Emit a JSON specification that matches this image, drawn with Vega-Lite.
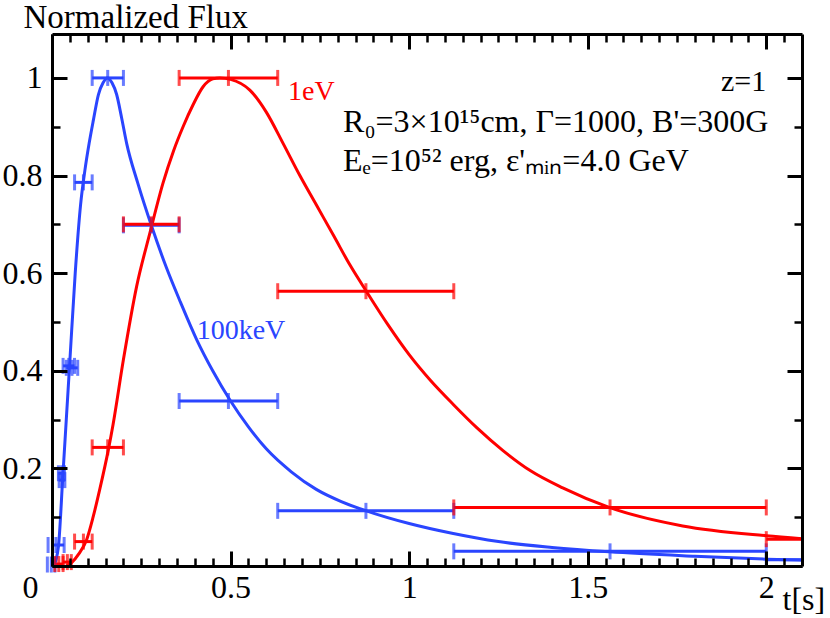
{
  "$schema": "https://vega.github.io/schema/vega-lite/v6.json",
  "width": 750,
  "height": 532,
  "autosize": {"type": "none"},
  "padding": {"left": 52, "top": 34, "right": 28, "bottom": 52},
  "background": "white",
  "config": {
    "view": {"stroke": null},
    "font": "Liberation Serif",
    "axis": {"grid": false, "labelFont": "Liberation Serif", "titleFont": "Liberation Serif", "labelColor": "black", "titleColor": "black", "domainColor": "black", "tickColor": "black", "titleFontWeight": "normal"}
  },
  "datasets": {
    "curves": [
      {"series": "100keV", "t": 0.005, "f": 0.0},
      {"series": "100keV", "t": 0.018, "f": 0.04},
      {"series": "100keV", "t": 0.03, "f": 0.18},
      {"series": "100keV", "t": 0.04, "f": 0.3},
      {"series": "100keV", "t": 0.05, "f": 0.42},
      {"series": "100keV", "t": 0.065, "f": 0.6},
      {"series": "100keV", "t": 0.08, "f": 0.74},
      {"series": "100keV", "t": 0.092, "f": 0.81},
      {"series": "100keV", "t": 0.104, "f": 0.866},
      {"series": "100keV", "t": 0.116, "f": 0.914},
      {"series": "100keV", "t": 0.13, "f": 0.966},
      {"series": "100keV", "t": 0.143, "f": 0.99},
      {"series": "100keV", "t": 0.155, "f": 1.0},
      {"series": "100keV", "t": 0.168, "f": 0.99},
      {"series": "100keV", "t": 0.181, "f": 0.966},
      {"series": "100keV", "t": 0.195, "f": 0.918},
      {"series": "100keV", "t": 0.209, "f": 0.866},
      {"series": "100keV", "t": 0.24, "f": 0.785},
      {"series": "100keV", "t": 0.28, "f": 0.694},
      {"series": "100keV", "t": 0.32, "f": 0.612},
      {"series": "100keV", "t": 0.36, "f": 0.54},
      {"series": "100keV", "t": 0.405, "f": 0.464},
      {"series": "100keV", "t": 0.45, "f": 0.4},
      {"series": "100keV", "t": 0.5, "f": 0.338},
      {"series": "100keV", "t": 0.55, "f": 0.285},
      {"series": "100keV", "t": 0.6, "f": 0.24},
      {"series": "100keV", "t": 0.67, "f": 0.193},
      {"series": "100keV", "t": 0.74, "f": 0.157},
      {"series": "100keV", "t": 0.81, "f": 0.132},
      {"series": "100keV", "t": 0.88, "f": 0.113},
      {"series": "100keV", "t": 1.0, "f": 0.087},
      {"series": "100keV", "t": 1.12, "f": 0.067},
      {"series": "100keV", "t": 1.25, "f": 0.05},
      {"series": "100keV", "t": 1.4, "f": 0.038},
      {"series": "100keV", "t": 1.56, "f": 0.029},
      {"series": "100keV", "t": 1.8, "f": 0.02},
      {"series": "100keV", "t": 2.0, "f": 0.014},
      {"series": "100keV", "t": 2.1, "f": 0.012},
      {"series": "1eV", "t": 0.04, "f": 0.0},
      {"series": "1eV", "t": 0.055, "f": 0.007},
      {"series": "1eV", "t": 0.075, "f": 0.025},
      {"series": "1eV", "t": 0.097, "f": 0.054},
      {"series": "1eV", "t": 0.115, "f": 0.1},
      {"series": "1eV", "t": 0.134, "f": 0.158},
      {"series": "1eV", "t": 0.158, "f": 0.239},
      {"series": "1eV", "t": 0.171, "f": 0.29},
      {"series": "1eV", "t": 0.2, "f": 0.423},
      {"series": "1eV", "t": 0.237, "f": 0.573},
      {"series": "1eV", "t": 0.274, "f": 0.682},
      {"series": "1eV", "t": 0.311, "f": 0.785},
      {"series": "1eV", "t": 0.34, "f": 0.85},
      {"series": "1eV", "t": 0.367, "f": 0.9},
      {"series": "1eV", "t": 0.395, "f": 0.945},
      {"series": "1eV", "t": 0.423, "f": 0.982},
      {"series": "1eV", "t": 0.45, "f": 0.998},
      {"series": "1eV", "t": 0.47, "f": 1.0},
      {"series": "1eV", "t": 0.5, "f": 0.997},
      {"series": "1eV", "t": 0.554, "f": 0.975},
      {"series": "1eV", "t": 0.6, "f": 0.93},
      {"series": "1eV", "t": 0.647, "f": 0.866},
      {"series": "1eV", "t": 0.694, "f": 0.8},
      {"series": "1eV", "t": 0.74, "f": 0.74},
      {"series": "1eV", "t": 0.79, "f": 0.675},
      {"series": "1eV", "t": 0.834, "f": 0.617},
      {"series": "1eV", "t": 0.88, "f": 0.563},
      {"series": "1eV", "t": 0.94, "f": 0.495},
      {"series": "1eV", "t": 1.0, "f": 0.433},
      {"series": "1eV", "t": 1.06, "f": 0.38},
      {"series": "1eV", "t": 1.125, "f": 0.33},
      {"series": "1eV", "t": 1.19, "f": 0.283},
      {"series": "1eV", "t": 1.262, "f": 0.237},
      {"series": "1eV", "t": 1.34, "f": 0.195},
      {"series": "1eV", "t": 1.43, "f": 0.16},
      {"series": "1eV", "t": 1.56, "f": 0.12},
      {"series": "1eV", "t": 1.766, "f": 0.082},
      {"series": "1eV", "t": 2.0, "f": 0.062},
      {"series": "1eV", "t": 2.1, "f": 0.056}
    ],
    "bars": [
      {"series": "100keV", "lo": -0.013, "hi": 0.008, "mid": -0.002, "y": 0.003},
      {"series": "100keV", "lo": -0.011, "hi": 0.034, "mid": 0.011, "y": 0.043},
      {"series": "100keV", "lo": 0.018, "hi": 0.035, "mid": 0.027, "y": 0.19},
      {"series": "100keV", "lo": 0.02, "hi": 0.036, "mid": 0.028, "y": 0.176},
      {"series": "100keV", "lo": 0.031, "hi": 0.063, "mid": 0.047, "y": 0.41},
      {"series": "100keV", "lo": 0.04, "hi": 0.072, "mid": 0.056, "y": 0.406},
      {"series": "100keV", "lo": 0.0632, "hi": 0.1125, "mid": 0.088, "y": 0.786},
      {"series": "100keV", "lo": 0.1125, "hi": 0.2, "mid": 0.156, "y": 1.0},
      {"series": "100keV", "lo": 0.2, "hi": 0.356, "mid": 0.278, "y": 0.698},
      {"series": "100keV", "lo": 0.356, "hi": 0.632, "mid": 0.494, "y": 0.338},
      {"series": "100keV", "lo": 0.632, "hi": 1.125, "mid": 0.879, "y": 0.113},
      {"series": "100keV", "lo": 1.125, "hi": 2.0, "mid": 1.5625, "y": 0.03},
      {"series": "100keV", "lo": 2.0, "hi": 3.56, "mid": 2.78, "y": 0.013},
      {"series": "1eV", "lo": 0.008, "hi": 0.031, "mid": 0.019, "y": 0.004},
      {"series": "1eV", "lo": 0.031, "hi": 0.054, "mid": 0.043, "y": 0.008},
      {"series": "1eV", "lo": 0.0632, "hi": 0.1125, "mid": 0.088, "y": 0.05},
      {"series": "1eV", "lo": 0.1125, "hi": 0.2, "mid": 0.156, "y": 0.243},
      {"series": "1eV", "lo": 0.2, "hi": 0.356, "mid": 0.278, "y": 0.7},
      {"series": "1eV", "lo": 0.356, "hi": 0.632, "mid": 0.494, "y": 1.0},
      {"series": "1eV", "lo": 0.632, "hi": 1.125, "mid": 0.879, "y": 0.563},
      {"series": "1eV", "lo": 1.125, "hi": 2.0, "mid": 1.5625, "y": 0.12},
      {"series": "1eV", "lo": 2.0, "hi": 3.56, "mid": 2.78, "y": 0.055}
    ],
    "curveLabels": [
      {"series": "1eV", "t": 0.661, "f": 0.955, "text": "1eV"},
      {"series": "100keV", "t": 0.405, "f": 0.4645, "text": "100keV"}
    ],
    "zlabel": [
      {"t": 2.0, "f": 0.973, "text": "z=1"}
    ],
    "params": [
      {"t": 0.815, "f": 0.89, "text": "R₀=3×10¹⁵cm, Γ=1000, B'=300G"},
      {"t": 0.815, "f": 0.81, "text": "Eₑ=10⁵² erg, ε'ₘᵢₙ=4.0 GeV"}
    ]
  },
  "resolve": {"axis": {"x": "independent", "y": "independent"}},
  "layer": [
    {
      "data": {"name": "curves"},
      "mark": {"type": "line", "strokeWidth": 3, "interpolate": "monotone", "clip": true},
      "encoding": {
        "x": {"field": "t", "type": "quantitative",
          "scale": {"domain": [0, 2.1], "nice": false, "zero": false},
          "axis": {"orient": "bottom", "values": [0, 0.5, 1, 1.5, 2], "format": "~g", "ticks": false, "domain": true, "domainWidth": 3,
            "labelFontSize": 32, "labelPadding": 31, "labelBaseline": "alphabetic", "labelFlush": false,
            "labelAlign": {"condition": {"test": "datum.value == 0", "value": "right"}, "value": "center"},
            "labelOffset": {"condition": {"test": "datum.value == 0", "value": -14}, "value": 0},
            "title": "t[s]", "titleFontSize": 32, "titleX": 730, "titleY": 43, "titleAlign": "left", "titleBaseline": "alphabetic", "titleAngle": 0, "zindex": 1}},
        "y": {"field": "f", "type": "quantitative",
          "scale": {"domain": [0, 1.09], "nice": false, "zero": false},
          "axis": {"orient": "left", "values": [0.2, 0.4, 0.6, 0.8, 1], "format": "~g", "ticks": false, "domain": true, "domainWidth": 3,
            "labelFontSize": 32, "labelPadding": 10, "labelBaseline": "middle",
            "title": "Normalized Flux", "titleFontSize": 33, "titleAngle": 0, "titleX": -29, "titleY": -7, "titleAlign": "left", "titleBaseline": "alphabetic", "zindex": 1}},
        "color": {"field": "series", "type": "nominal", "scale": {"domain": ["1eV", "100keV"], "range": ["#ff0000", "#2a45ff"]}, "legend": null},
        "detail": {"field": "series"}
      }
    },
    {
      "data": {"name": "bars"},
      "mark": {"type": "rule", "strokeWidth": 3, "clip": true},
      "encoding": {
        "x": {"field": "lo", "type": "quantitative",
          "axis": {"orient": "bottom", "values": [0, 0.5, 1, 1.5, 2], "labels": false, "domain": false, "ticks": true, "tickSize": -15, "tickWidth": 3, "title": null, "zindex": 1}},
        "x2": {"field": "hi"},
        "y": {"field": "y", "type": "quantitative",
          "axis": {"orient": "left", "values": [0, 0.2, 0.4, 0.6, 0.8, 1], "labels": false, "domain": false, "ticks": true, "tickSize": -15, "tickWidth": 3, "title": null, "zindex": 1}},
        "color": {"field": "series", "type": "nominal", "legend": null}
      }
    },
    {
      "data": {"name": "bars"},
      "transform": [{"fold": ["lo", "hi", "mid"], "as": ["end", "tval"]}],
      "mark": {"type": "tick", "orient": "vertical", "size": 16, "thickness": 3},
      "encoding": {
        "x": {"field": "tval", "type": "quantitative",
          "axis": {"orient": "bottom", "values": [0.05, 0.1, 0.15, 0.2, 0.25, 0.3, 0.35, 0.4, 0.45, 0.55, 0.6, 0.65, 0.7, 0.75, 0.8, 0.85, 0.9, 0.95, 1.05, 1.1, 1.15, 1.2, 1.25, 1.3, 1.35, 1.4, 1.45, 1.55, 1.6, 1.65, 1.7, 1.75, 1.8, 1.85, 1.9, 1.95, 2.05],
            "labels": false, "domain": false, "ticks": true, "tickSize": -8, "tickWidth": 2.5, "title": null, "zindex": 1}},
        "y": {"field": "y", "type": "quantitative",
          "axis": {"orient": "left", "values": [0.1, 0.3, 0.5, 0.7, 0.9], "labels": false, "domain": false, "ticks": true, "tickSize": -8, "tickWidth": 2.5, "title": null, "zindex": 1}},
        "color": {"field": "series", "type": "nominal", "legend": null}
      }
    },
    {
      "data": {"name": "curveLabels"},
      "mark": {"type": "text", "align": "left", "baseline": "alphabetic", "fontSize": 28, "font": "Liberation Serif"},
      "encoding": {
        "x": {"field": "t", "type": "quantitative",
          "axis": {"orient": "top", "values": [0, 0.5, 1, 1.5, 2], "labels": false, "domain": true, "domainWidth": 3, "ticks": true, "tickSize": -15, "tickWidth": 3, "title": null, "zindex": 1}},
        "y": {"field": "f", "type": "quantitative",
          "axis": {"orient": "right", "values": [0, 0.2, 0.4, 0.6, 0.8, 1], "labels": false, "domain": true, "domainWidth": 3, "ticks": true, "tickSize": -15, "tickWidth": 3, "title": null, "zindex": 1}},
        "text": {"field": "text"},
        "color": {"field": "series", "type": "nominal", "legend": null}
      }
    },
    {
      "data": {"name": "zlabel"},
      "mark": {"type": "text", "align": "right", "baseline": "alphabetic", "fontSize": 30, "font": "Liberation Serif", "color": "black"},
      "encoding": {
        "x": {"field": "t", "type": "quantitative",
          "axis": {"orient": "top", "values": [0.05, 0.1, 0.15, 0.2, 0.25, 0.3, 0.35, 0.4, 0.45, 0.55, 0.6, 0.65, 0.7, 0.75, 0.8, 0.85, 0.9, 0.95, 1.05, 1.1, 1.15, 1.2, 1.25, 1.3, 1.35, 1.4, 1.45, 1.55, 1.6, 1.65, 1.7, 1.75, 1.8, 1.85, 1.9, 1.95, 2.05],
            "labels": false, "domain": false, "ticks": true, "tickSize": -8, "tickWidth": 2.5, "title": null, "zindex": 1}},
        "y": {"field": "f", "type": "quantitative",
          "axis": {"orient": "right", "values": [0.1, 0.3, 0.5, 0.7, 0.9], "labels": false, "domain": false, "ticks": true, "tickSize": -8, "tickWidth": 2.5, "title": null, "zindex": 1}},
        "text": {"field": "text"}
      }
    },
    {
      "data": {"name": "params"},
      "mark": {"type": "text", "align": "left", "baseline": "alphabetic", "fontSize": 32, "font": "Liberation Serif", "color": "black"},
      "encoding": {
        "x": {"field": "t", "type": "quantitative", "axis": null},
        "y": {"field": "f", "type": "quantitative", "axis": null},
        "text": {"field": "text"}
      }
    }
  ]
}
